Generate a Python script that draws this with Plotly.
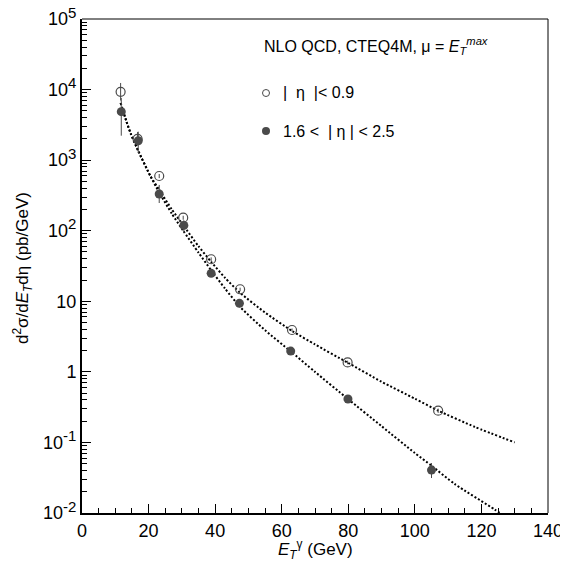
import plotly.graph_objects as go

# ---- data ----
# |eta| < 0.9 (open circles)
x_central = [11.6, 16.7, 23.2, 30.4, 38.8, 47.5, 63.1, 79.8, 107.0]
y_central = [9300, 2000, 596, 153, 39.4, 14.8, 3.92, 1.36, 0.282]
err_c_up = [3100, 500, 40, 10, 2.5, 0.8, 0.2, 0.08, 0.02]
err_c_dn = [2300, 400, 40, 10, 2.5, 0.8, 0.2, 0.08, 0.02]

# 1.6 < |eta| < 2.5 (filled circles)
x_forward = [11.8, 16.9, 23.2, 30.6, 38.8, 47.3, 62.7, 79.9, 105.0]
y_forward = [4860, 1885, 331, 119, 24.9, 9.36, 1.97, 0.412, 0.0406]
err_f_up = [2740, 645, 114, 22, 2.5, 0.9, 0.2, 0.04, 0.0104]
err_f_dn = [2640, 623, 84, 26, 2.5, 0.9, 0.2, 0.04, 0.0093]

# NLO QCD curves
x_nlo_central = [11.6, 13.4, 14.7, 17.0, 20.6, 23.2, 27.0, 30.4, 35.0, 38.8, 43.0,
                 47.5, 55.0, 63.1, 70.0, 79.8, 90.0, 100.0, 107.0, 118.0, 130.0]
y_nlo_central = [6460, 3470, 2340, 1320, 589, 380, 200, 120, 60.3, 36.3, 21.4,
                 13.2, 6.92, 3.80, 2.45, 1.35, 0.724, 0.417, 0.282, 0.166, 0.100]
x_nlo_forward = [11.6, 13.4, 14.7, 17.0, 20.6, 23.2, 27.0, 30.4, 35.0, 38.8, 43.0,
                 47.5, 55.0, 62.7, 70.0, 79.9, 90.0, 100.0, 105.0, 112.0, 124.0, 127.0]
y_nlo_forward = [6460, 3470, 2340, 1320, 589, 347, 174, 100, 49.0, 27.5, 15.1,
                 8.32, 3.89, 1.95, 1.00, 0.412, 0.170, 0.0708, 0.0468, 0.0257, 0.0112, 0.0089]

x_ticks = [0, 20, 40, 60, 80, 100, 120, 140]
y_tickvals = [0.01, 0.1, 1, 10, 100, 1000, 10000, 100000]
SUP = "<sup><span style='font-size:15px'>{}</span></sup>"
y_ticktext = ["10" + SUP.format("-2"), "10" + SUP.format("-1"), "1", "10", "10" + SUP.format("2"),
              "10" + SUP.format("3"), "10" + SUP.format("4"), "10" + SUP.format("5")]
y_minor = [m * 10 ** e for e in range(-2, 5) for m in range(2, 10)]

FONT = "Liberation Sans, Arial, Helvetica, sans-serif"
MARK = "#4a4a4a"

fig = go.Figure()

fig.add_trace(go.Scatter(x=x_nlo_central, y=y_nlo_central, mode="lines",
                         line=dict(color="black", width=2, dash="2px,2px", shape="spline", smoothing=0.6),
                         showlegend=False, hoverinfo="skip"))
fig.add_trace(go.Scatter(x=x_nlo_forward, y=y_nlo_forward, mode="lines",
                         line=dict(color="black", width=2, dash="2px,2px", shape="spline", smoothing=0.6),
                         showlegend=False, hoverinfo="skip"))

fig.add_trace(go.Scatter(x=x_central, y=y_central, mode="markers",
                         marker=dict(symbol="circle-open", size=9, color=MARK, line=dict(width=1.2, color=MARK)),
                         error_y=dict(type="data", symmetric=False, array=err_c_up, arrayminus=err_c_dn,
                                      thickness=1, width=0, color=MARK),
                         showlegend=False))
fig.add_trace(go.Scatter(x=x_forward, y=y_forward, mode="markers",
                         marker=dict(symbol="circle", size=9, color=MARK, line=dict(width=0)),
                         error_y=dict(type="data", symmetric=False, array=err_f_up, arrayminus=err_f_dn,
                                      thickness=1, width=0, color=MARK),
                         showlegend=False))

# page body has an 8px margin: figure is drawn from (8, 8) in the window
OFF = 8
W, H = 568 - OFF, 566 - OFF
L, R, T, B = 82 - OFF, 20, 19 - OFF, 53
pw, ph = W - L - R, H - T - B

def px(xp):
    return (xp - OFF - L) / pw

def py(yp):
    return (H - B - (yp - OFF)) / ph

ann_common = dict(xref="paper", yref="paper", showarrow=False)
annotations = [
    dict(text="NLO QCD, CTEQ4M, μ = <i>E</i><sub><i>T</i></sub><sup><i>max</i></sup>",
         x=px(262), y=py(46), xanchor="left", yanchor="middle",
         font=dict(size=16, family=FONT, color="black"), **ann_common),
    dict(text="|  η  |< 0.9", x=px(281), y=py(93), xanchor="left", yanchor="middle",
         font=dict(size=16, family=FONT, color="black"), **ann_common),
    dict(text="1.6 <  | η | < 2.5", x=px(281), y=py(131), xanchor="left", yanchor="middle",
         font=dict(size=16, family=FONT, color="black"), **ann_common),
    dict(text="d<sup>2</sup>σ/d<i>E</i><sub><i>T</i></sub>dη (pb/GeV)", textangle=-90,
         x=px(22), y=py(268), xanchor="center", yanchor="middle",
         font=dict(size=17, family=FONT, color="black"), **ann_common),
    dict(text="<i>E</i><sub><i>T</i></sub><sup>γ</sup> (GeV)",
         x=0.5, y=py(549), xanchor="center", yanchor="middle",
         font=dict(size=17, family=FONT, color="black"), **ann_common),
]

shapes = [
    # top and right frame lines (thin)
    dict(type="line", xref="paper", yref="paper", x0=0, x1=1, y0=1, y1=1, line=dict(color="black", width=1)),
    dict(type="line", xref="paper", yref="paper", x0=1, x1=1, y0=0, y1=1, line=dict(color="black", width=1)),
    # legend symbols
    dict(type="circle", xref="paper", yref="paper", xsizemode="pixel", ysizemode="pixel",
         xanchor=px(266), yanchor=py(93), x0=-3.5, x1=3.5, y0=-3.5, y1=3.5,
         line=dict(color=MARK, width=1), fillcolor="rgba(0,0,0,0)"),
    dict(type="circle", xref="paper", yref="paper", xsizemode="pixel", ysizemode="pixel",
         xanchor=px(266), yanchor=py(131), x0=-4, x1=4, y0=-4, y1=4,
         line=dict(color=MARK, width=0), fillcolor=MARK),
]

fig.update_layout(
    width=W, height=H,
    margin=dict(l=L, r=R, t=T, b=B, pad=0, autoexpand=False),
    paper_bgcolor="white", plot_bgcolor="white",
    font=dict(family=FONT, size=18, color="black"),
    annotations=annotations, shapes=shapes,
    showlegend=False,
)

fig.update_xaxes(range=[0, 140], tickmode="array", tickvals=x_ticks, automargin=False,
                 ticklabeloverflow="allow",
                 ticks="inside", ticklen=9, tickwidth=1, tickcolor="black",
                 minor=dict(ticks="inside", dtick=5, ticklen=5, tickwidth=1, tickcolor="black", showgrid=False),
                 showline=True, linecolor="black", linewidth=2, mirror=False,
                 showgrid=False, zeroline=False, tickfont=dict(size=18, family=FONT))
fig.update_yaxes(type="log", range=[-2, 5], tickmode="array", tickvals=y_tickvals, ticktext=y_ticktext,
                 automargin=False, ticklabeloverflow="allow",
                 ticks="inside", ticklen=9, tickwidth=1, tickcolor="black",
                 minor=dict(ticks="inside", tickvals=y_minor, ticklen=5, tickwidth=1, tickcolor="black", showgrid=False),
                 showline=True, linecolor="black", linewidth=2, mirror=False,
                 showgrid=False, zeroline=False, tickfont=dict(size=18, family=FONT))

fig.write_html("out.html")
